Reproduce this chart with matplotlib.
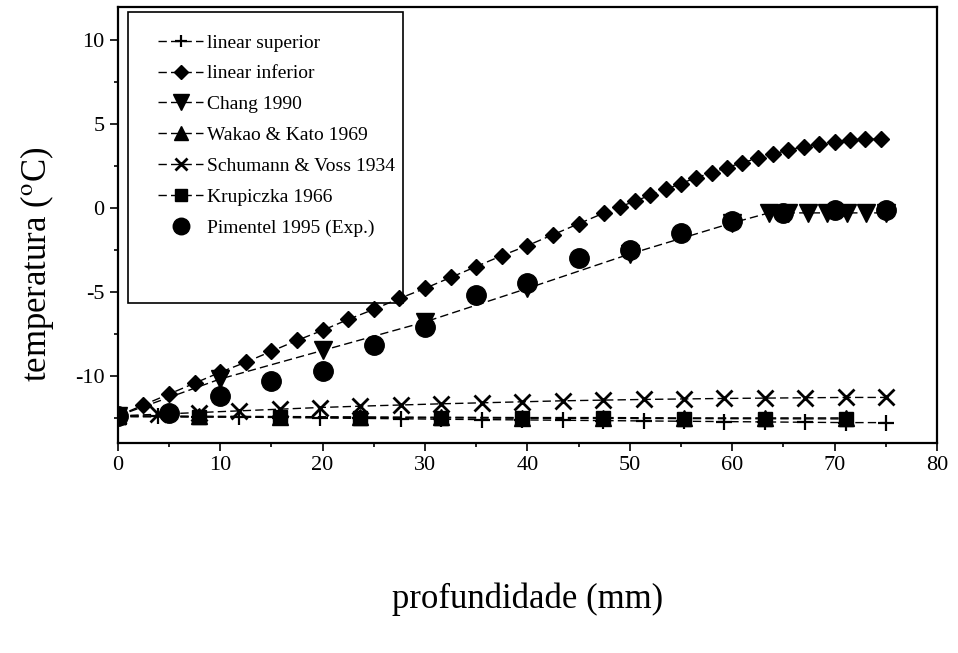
import numpy as np
import matplotlib
import matplotlib.pyplot as plt
from matplotlib.patches import Rectangle
from matplotlib.ticker import MultipleLocator
matplotlib.use('Agg')

plt.rcParams['font.family'] = ['Liberation Serif', 'DejaVu Serif']
plt.rcParams['mathtext.fontset'] = 'stix'
plt.rcParams['axes.unicode_minus'] = False

# linear superior (+)
sup_x = [0, 3.95, 7.9, 11.85, 15.8, 19.75, 23.7, 27.65, 31.6, 35.55, 39.5,
         43.45, 47.4, 51.35, 55.3, 59.25, 63.2, 67.15, 71.1, 75.0]
sup_y = [-12.4, -12.42, -12.45, -12.47, -12.5, -12.52, -12.55, -12.57, -12.6, -12.62,
         -12.64, -12.66, -12.68, -12.7, -12.72, -12.74, -12.76, -12.78, -12.8, -12.8]

# linear inferior (diamonds)
inf_x = [0, 2.5, 5, 7.5, 10, 12.5, 15, 17.5, 20, 22.5, 25, 27.5, 30, 32.5, 35, 37.5,
         40, 42.5, 45, 47.5, 49, 50.5, 52, 53.5, 55, 56.5, 58, 59.5, 61, 62.5, 64,
         65.5, 67, 68.5, 70, 71.5, 73, 74.5]
inf_y = [-12.4, -11.75, -11.1, -10.45, -9.8, -9.2, -8.55, -7.9, -7.3, -6.65, -6.05,
         -5.4, -4.8, -4.15, -3.5, -2.85, -2.25, -1.6, -0.95, -0.3, 0.05, 0.4, 0.75,
         1.1, 1.45, 1.8, 2.1, 2.4, 2.7, 2.95, 3.2, 3.45, 3.65, 3.8, 3.95, 4.05, 4.1, 4.1]

# Chang 1990 (triangles down)
chang_x = [0, 10, 20, 30, 40, 50, 60, 63.6, 65.5, 67.4, 69.3, 71.2, 73.1, 75.0]
chang_y = [-12.4, -10.2, -8.5, -6.8, -4.8, -2.75, -0.9, -0.3, -0.3, -0.3, -0.3,
           -0.3, -0.3, -0.3]

# Wakao & Kato 1969 (triangles up) and Krupiczka 1966 (squares)
wk_x = [0, 7.9, 15.8, 23.7, 31.6, 39.5, 47.4, 55.3, 63.2, 71.1]
wk_y = [-12.4, -12.42, -12.44, -12.46, -12.48, -12.5, -12.5, -12.52, -12.52, -12.52]
kr_x = [0, 7.9, 15.8, 23.7, 31.6, 39.5, 47.4, 55.3, 63.2, 71.1]
kr_y = [-12.45, -12.47, -12.48, -12.5, -12.52, -12.54, -12.55, -12.56, -12.57, -12.58]

# Schumann & Voss 1934 (x)
sv_x = [0, 3.95, 7.9, 11.85, 15.8, 19.75, 23.7, 27.65, 31.6, 35.55, 39.5,
        43.45, 47.4, 51.35, 55.3, 59.25, 63.2, 67.15, 71.1, 75.0]
sv_y = [-12.4, -12.3, -12.2, -12.1, -12.0, -11.9, -11.82, -11.75, -11.68, -11.62,
        -11.56, -11.5, -11.46, -11.42, -11.39, -11.36, -11.34, -11.32, -11.3, -11.3]

# Pimentel 1995 (experimental)
pim_x = [0, 5, 10, 15, 20, 25, 30, 35, 40, 45, 50, 55, 60, 65, 70, 75]
pim_y = [-12.4, -12.2, -11.2, -10.35, -9.7, -8.15, -7.1, -5.2, -4.5, -3.0, -2.5,
         -1.5, -0.8, -0.3, -0.1, -0.1]

fig = plt.figure(figsize=(9.58, 6.53), dpi=100)
ax = fig.add_axes([0.123, 0.322, 0.855, 0.668])

dash = (0, (6, 3))
ax.plot(sup_x, sup_y, color='black', lw=1, ls=dash, marker='+', ms=11, mew=1.6,
        label='linear superior')
ax.plot(inf_x, inf_y, color='black', lw=1, ls=dash, marker='D', ms=8.5,
        label='linear inferior')
ax.plot(chang_x, chang_y, color='black', lw=1, ls=dash, marker='v', ms=13,
        label='Chang 1990')
ax.plot(wk_x, wk_y, color='black', lw=1, ls=dash, marker='^', ms=12,
        label='Wakao & Kato 1969')
ax.plot(sv_x, sv_y, color='black', lw=1, ls=dash, marker='x', ms=11, mew=2,
        label='Schumann & Voss 1934')
ax.plot(kr_x, kr_y, color='black', lw=1, ls=dash, marker='s', ms=10,
        label='Krupiczka 1966')
ax.plot(pim_x, pim_y, color='black', lw=0, marker='o', ms=14,
        label='Pimentel 1995 (Exp.)')

ax.set_xlim(0, 80)
ax.set_ylim(-14, 12)
ax.xaxis.set_major_locator(MultipleLocator(10))
ax.xaxis.set_minor_locator(MultipleLocator(5))
ax.yaxis.set_major_locator(MultipleLocator(5))
ax.yaxis.set_minor_locator(MultipleLocator(2.5))
ax.tick_params(which='both', direction='out', labelsize=16, width=1.2)
ax.tick_params(which='major', length=6)
ax.tick_params(which='minor', length=3)
for s in ax.spines.values():
    s.set_linewidth(1.6)

ax.set_xlabel('profundidade (mm)', fontsize=25)
ax.set_ylabel('temperatura ($^{\\mathrm{o}}$C)', fontsize=25)
ax.xaxis.set_label_coords(0.5, -0.32)
ax.yaxis.set_label_coords(-0.075, 0.41)

leg = ax.legend(loc='upper left', bbox_to_anchor=(0.04, 0.955), frameon=False,
                fontsize=14, handlelength=2.3, handletextpad=0.2,
                labelspacing=0.68, borderaxespad=0, numpoints=1)
for h in leg.legend_handles:
    h.set_markersize(h.get_markersize() * 0.85)
ax.add_patch(Rectangle((0.012, 0.32), 0.336, 0.668, transform=ax.transAxes,
                       fill=False, lw=1.2, color='black'))

fig.savefig('out.png', dpi=100)
